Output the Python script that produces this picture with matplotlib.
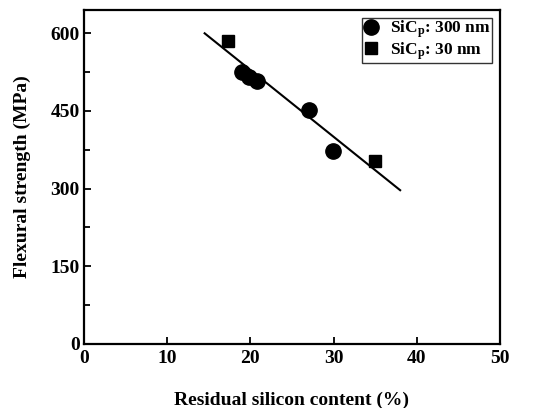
import numpy as np
import matplotlib
matplotlib.use('Agg')
import matplotlib.pyplot as plt
from matplotlib.ticker import MultipleLocator

plt.rcParams['font.family'] = 'Liberation Serif'
plt.rcParams['font.weight'] = 'bold'
plt.rcParams['mathtext.fontset'] = 'custom'
plt.rcParams['mathtext.rm'] = 'Liberation Serif:bold'
plt.rcParams['mathtext.it'] = 'Liberation Serif:bold'
plt.rcParams['mathtext.bf'] = 'Liberation Serif:bold'

# ── Datos ─────────────────────────────────────────────────────────────────────
si_300 = [19.0, 19.8, 20.8, 27.0, 29.9]
fs_300 = [526, 515, 508, 452, 373]

si_30 = [17.3, 35.0]
fs_30 = [585, 353]

fit_x = [14.5, 38.0]
fit_y = [600, 297]

fig = plt.figure(figsize=(5.35, 4.08), dpi=100)
ax = fig.add_axes([84/535, 1 - 344/408, 416/535, 334/408])

ax.plot(fit_x, fit_y, color='black', linewidth=1.5, zorder=2)
ax.plot(si_300, fs_300, 'o', color='black', markersize=11,
        label=r'SiC$_{\mathrm{p}}$: 300 nm', zorder=3)
ax.plot(si_30, fs_30, 's', color='black', markersize=9,
        label=r'SiC$_{\mathrm{p}}$: 30 nm', zorder=3)

ax.set_xlim(0, 50)
ax.set_ylim(0, 645)
ax.xaxis.set_major_locator(MultipleLocator(10))
ax.yaxis.set_major_locator(MultipleLocator(150))
ax.yaxis.set_minor_locator(MultipleLocator(75))
ax.tick_params(direction='in', labelsize=14, width=1.3, length=5, pad=3)
ax.tick_params(axis='x', pad=4)
ax.tick_params(which='minor', direction='in', width=1.3, length=4)
ax.tick_params(top=False, right=False)
for s in ax.spines.values():
    s.set_linewidth(1.6)

ax.set_xlabel('Residual silicon content (%)', fontsize=14, fontweight='bold',
              labelpad=18)
ax.set_ylabel('Flexural strength (MPa)', fontsize=14, fontweight='bold',
              labelpad=14)

leg = ax.legend(loc='upper right', fontsize=12.5, frameon=True, fancybox=False,
                edgecolor='black', handlelength=1.0, handletextpad=0.6,
                borderpad=0.05, labelspacing=0.0, borderaxespad=0.45)
leg.get_frame().set_linewidth(1.0)

fig.savefig('out.png', dpi=100)
